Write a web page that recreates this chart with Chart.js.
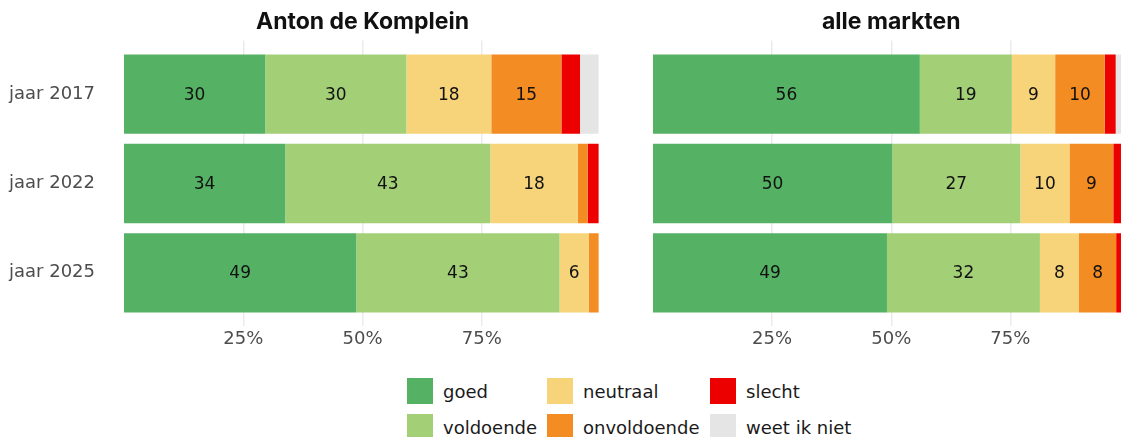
<!DOCTYPE html>
<html>
<head>
<meta charset="utf-8">
<script src="https://cdn.jsdelivr.net/npm/chart.js@4"></script>
<style>
  html, body { margin: 0; padding: 0; background: #fff; overflow: hidden; }
  body { width: 1121px; height: 437px; position: relative; }
  .panel { position: absolute; top: 0; height: 352px; }
  #leftPanel { left: 0; width: 620px; }
  #rightPanel { left: 620px; width: 530px; }
  #legend {
    position: absolute; left: 407px; top: 378px;
    display: grid; grid-template-columns: 140px 163px auto;
    grid-auto-flow: column; grid-template-rows: 26px 26px; row-gap: 10px;
    font-family: "DejaVu Sans", sans-serif; font-size: 18px; color: #1a1a1a;
  }
  .item { display: flex; align-items: center; white-space: nowrap; }
  .swatch { width: 26px; height: 26px; margin-right: 10px; }
</style>
</head>
<body>
<div class="panel" id="leftPanel"><canvas id="leftChart"></canvas></div>
<div class="panel" id="rightPanel"><canvas id="rightChart"></canvas></div>
<div id="legend"></div>
<script>
const categories = ['jaar 2017', 'jaar 2022', 'jaar 2025'];
const seriesNames = ['goed', 'voldoende', 'neutraal', 'onvoldoende', 'slecht', 'weet ik niet'];
const seriesColors = ['#55b264', '#a3cf77', '#f7d479', '#f28c23', '#ec0000', '#e5e5e5'];
const xTicks = [25, 50, 75];

// Anton de Komplein, per series, values for 2017 / 2022 / 2025
const antonGoed = [29.6, 33.8, 48.7];
const antonVoldoende = [29.6, 43.0, 42.6];
const antonNeutraal = [17.8, 18.3, 6.1];
const antonOnvoldoende = [14.7, 2.1, 2.1];
const antonSlecht = [3.9, 2.3, 0];
const antonWeetNiet = [3.9, 0, 0];

// alle markten
const alleGoed = [56.0, 50.2, 49.1];
const alleVoldoende = [19.3, 26.9, 32.1];
const alleNeutraal = [9.1, 10.3, 8.2];
const alleOnvoldoende = [10.4, 9.2, 7.8];
const alleSlecht = [2.3, 2.3, 2.3];
const alleWeetNiet = [2.4, 0.6, 0];

const antonData = [antonGoed, antonVoldoende, antonNeutraal, antonOnvoldoende, antonSlecht, antonWeetNiet];
const alleData = [alleGoed, alleVoldoende, alleNeutraal, alleOnvoldoende, alleSlecht, alleWeetNiet];

// draws rounded values in the middle of each segment (small ones skipped)
const barLabels = {
  id: 'barLabels',
  afterDatasetsDraw(chart) {
    const ctx = chart.ctx;
    ctx.save();
    ctx.font = '17px "DejaVu Sans", sans-serif';
    ctx.fillStyle = '#111';
    ctx.textAlign = 'center';
    ctx.textBaseline = 'middle';
    chart.data.datasets.forEach((ds, i) => {
      const meta = chart.getDatasetMeta(i);
      meta.data.forEach((bar, j) => {
        const v = ds.data[j].x;
        if (v < 5.5) return;
        ctx.fillText(Math.round(v), (bar.x + bar.base) / 2, bar.y + 1);
      });
    });
    ctx.restore();
  }
};

function makeChart(id, title, data, showY, padding) {
  const ctx = document.getElementById(id).getContext('2d');
  return new Chart(ctx, {
    type: 'bar',
    data: {
      datasets: seriesNames.map((name, i) => ({
        label: name,
        data: data[i].map((v, j) => ({ x: v, y: j + 1 })),
        backgroundColor: seriesColors[i],
        borderWidth: 0,
        categoryPercentage: 1,
        barPercentage: 0.888,
      })),
    },
    options: {
      indexAxis: 'y',
      responsive: true,
      maintainAspectRatio: false,
      animation: false,
      layout: { padding: padding, autoPadding: false },
      plugins: {
        legend: { display: false },
        tooltip: { enabled: false },
        title: {
          display: true,
          text: title,
          fullSize: false,
          color: '#111',
          font: { family: 'Inter', size: 23, weight: 'bold' },
          padding: { top: 8, bottom: 5 },
        },
      },
      scales: {
        x: {
          stacked: true,
          min: 0,
          max: 100,
          afterBuildTicks: (scale) => {
            scale.ticks = xTicks.map((v) => ({ value: v }));
          },
          ticks: {
            color: '#4d4d4d',
            padding: 2,
            font: { family: 'DejaVu Sans', size: 18 },
            callback: (v) => v + '%',
          },
          grid: { color: '#ebebeb', lineWidth: 1.5, drawTicks: false },
          border: { display: false },
        },
        y: {
          type: 'linear',
          stacked: true,
          offset: false,
          reverse: true,
          min: 0.4,
          max: 3.6,
          display: showY,
          afterBuildTicks: (scale) => {
            scale.ticks = categories.map((c, i) => ({ value: i + 1 }));
          },
          afterFit: (scale) => {
            if (showY) scale.width = 124;
          },
          ticks: {
            color: '#4d4d4d',
            padding: 0,
            font: { family: 'DejaVu Sans', size: 18 },
            callback: (v) => categories[v - 1],
          },
          grid: { display: false, drawTicks: true, tickLength: 29 },
          border: { display: false },
        },
      },
    },
    plugins: [barLabels],
  });
}

makeChart('leftChart', 'Anton de Komplein', antonData, true, { left: 0, right: 19 });
makeChart('rightChart', 'alle markten', alleData, false, { left: 33, right: 20.5 });

const legend = document.getElementById('legend');
seriesNames.forEach((name, i) => {
  const item = document.createElement('div');
  item.className = 'item';
  const sw = document.createElement('span');
  sw.className = 'swatch';
  sw.style.background = seriesColors[i];
  const label = document.createElement('span');
  label.textContent = name;
  item.appendChild(sw);
  item.appendChild(label);
  legend.appendChild(item);
});
</script>
</body>
</html>
